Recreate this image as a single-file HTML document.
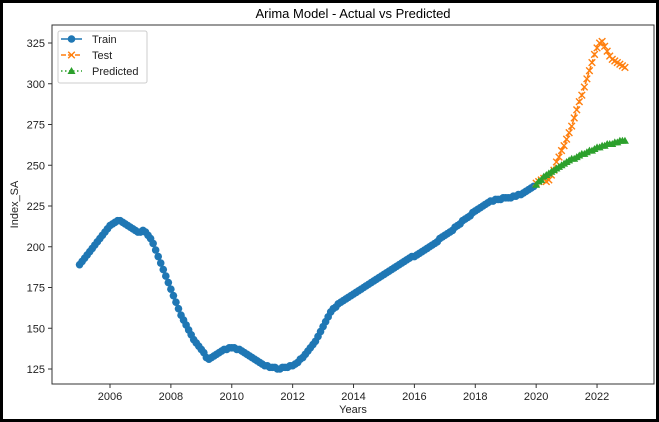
<!DOCTYPE html>
<html><head><meta charset="utf-8"><style>
html,body{margin:0;padding:0;background:#fff;}
#wrap{position:relative;width:659px;height:422px;box-sizing:border-box;border:3px solid #000;overflow:hidden;}
svg{position:absolute;left:-3px;top:-3px;font-family:"Liberation Sans","DejaVu Sans",sans-serif;}
</style></head><body>
<div id="wrap">
<svg id="chart" width="659" height="422"></svg>
</div>
<script>
const trainStartYear = 2005;
const trainValues = [
189,191,193,195,197,199,201,203,205,207,209,211,
213,214,215,216,216,215,214,213,212,211,210,209,
209,210,209,207,205,202,198,194,190,186,182,178,
174,170,166,162,158,155,152,149,146,143,141,139,
137,135,132,131,132,133,134,135,136,137,137,138,
138,138,137,137,136,135,134,133,132,131,130,129,
128,127,127,126,126,126,125,125,126,126,126,127,
127,128,129,131,132,134,136,138,140,142,145,148,
151,154,157,160,162,163,165,166,167,168,169,170,
171,172,173,174,175,176,177,178,179,180,181,182,
183,184,185,186,187,188,189,190,191,192,193,194,
194,195,196,197,198,199,200,201,202,203,205,206,
207,208,209,210,212,213,214,216,217,218,219,221,
222,223,224,225,226,227,228,228,229,229,229,230,
230,230,230,231,231,232,232,233,234,235,236,237];
const testStartYear = 2020;
const testValues = [
239,240,241,242,240,241,244,247,252,255,259,262,
266,270,274,279,284,289,293,298,303,308,313,318,
322,325,326,323,320,317,315,314,313,312,311,310];
const predValues = [
238,240,241,243,244,245,246,247,248,249,250,251,
252,253,254,254,255,256,257,257,258,259,259,260,
261,261,262,262,263,263,263,264,264,265,265,265];
const xTicks = [2006,2008,2010,2012,2014,2016,2018,2020,2022];
const yTicks = [125,150,175,200,225,250,275,300,325];

const L=52,R=654,T=25,B=384;
const xS=y=>110+(y-2006)*30.44;
const yS=v=>369-(v-125)*1.63;
const svg=document.getElementById('chart');
const NS='http://www.w3.org/2000/svg';
function mk(tag,attrs,parent){const e=document.createElementNS(NS,tag);for(const k in attrs)e.setAttribute(k,attrs[k]);(parent||svg).appendChild(e);return e;}

const title=mk('text',{x:(L+R)/2,y:18,'text-anchor':'middle','font-size':13,fill:'#000'});
title.textContent='Arima Model - Actual vs Predicted';



const gx=mk('g',{});


xTicks.forEach(t=>{const x=xS(t);
 mk('line',{x1:x,x2:x,y1:B,y2:B+4,stroke:'#333'},gx);
 const tx=mk('text',{x:x,y:B+16,'text-anchor':'middle','font-size':11,fill:'#222'},gx);tx.textContent=t;
 
 });
const gy=mk('g',{});


yTicks.forEach(t=>{const y=yS(t);
 mk('line',{x1:L-4,x2:L,y1:y,y2:y,stroke:'#333'},gy);
 const tx=mk('text',{x:L-7,y:y+4,'text-anchor':'end','font-size':11,fill:'#222'},gy);tx.textContent=t;
 
 });
const xl=mk('text',{x:(L+R)/2,y:413,'text-anchor':'middle','font-size':11,fill:'#222'});xl.textContent='Years';


const yl=mk('text',{x:0,y:0,'text-anchor':'middle','font-size':11,fill:'#222',transform:`translate(18,${(T+B)/2}) rotate(-90)`});yl.textContent='Index_SA';



function series(vals,start,color,dash,marker,name){
 const g=mk('g',{});
 
 
 const pts=vals.map((v,i)=>[xS(start+i/12),yS(v)]);
 mk('polyline',{points:pts.map(p=>p.join(',')).join(' '),fill:'none',stroke:color,'stroke-width':1.5,'stroke-dasharray':dash},g);
 pts.forEach(p=>drawMarker(g,p[0],p[1],marker,color));
}
function drawMarker(g,x,y,m,c){
 if(m==='o')mk('circle',{cx:x,cy:y,r:3.8,fill:c},g);
 else if(m==='x'){mk('path',{d:`M${x-3.3},${y-3.3}L${x+3.3},${y+3.3}M${x-3.3},${y+3.3}L${x+3.3},${y-3.3}`,stroke:c,'stroke-width':1.4},g);}
 else mk('path',{d:`M${x},${y-4}L${x+4},${y+3}L${x-4},${y+3}Z`,fill:c},g);
}
series(trainValues,trainStartYear,'#1f77b4','none','o','train-series');
series(testValues,testStartYear,'#ff7f0e','5,2','x','test-series');
series(predValues,testStartYear,'#2ca02c','1.5,2.5','^','predicted-series');

mk('rect',{x:L,y:T,width:R-L,height:B-T,fill:'none',stroke:'#333','stroke-width':1});

const lg=mk('g',{});


mk('rect',{x:58,y:31,width:89,height:52,rx:2,fill:'#fff',stroke:'#ccc'},lg);
const ents=[['Train','#1f77b4','none','o'],['Test','#ff7f0e','5,2','x'],['Predicted','#2ca02c','1.5,2.5','^']];
ents.forEach((e,i)=>{const y=39+i*16;
 const g=mk('g',{},lg);
 
 
 mk('line',{x1:61,x2:82,y1:y,y2:y,stroke:e[1],'stroke-width':1.5,'stroke-dasharray':e[2]},g);
 drawMarker(g,71.5,y,e[3],e[1]);
 const t=mk('text',{x:92,y:y+4,'font-size':11,fill:'#222'},g);t.textContent=e[0];});
</script>
</body></html>
